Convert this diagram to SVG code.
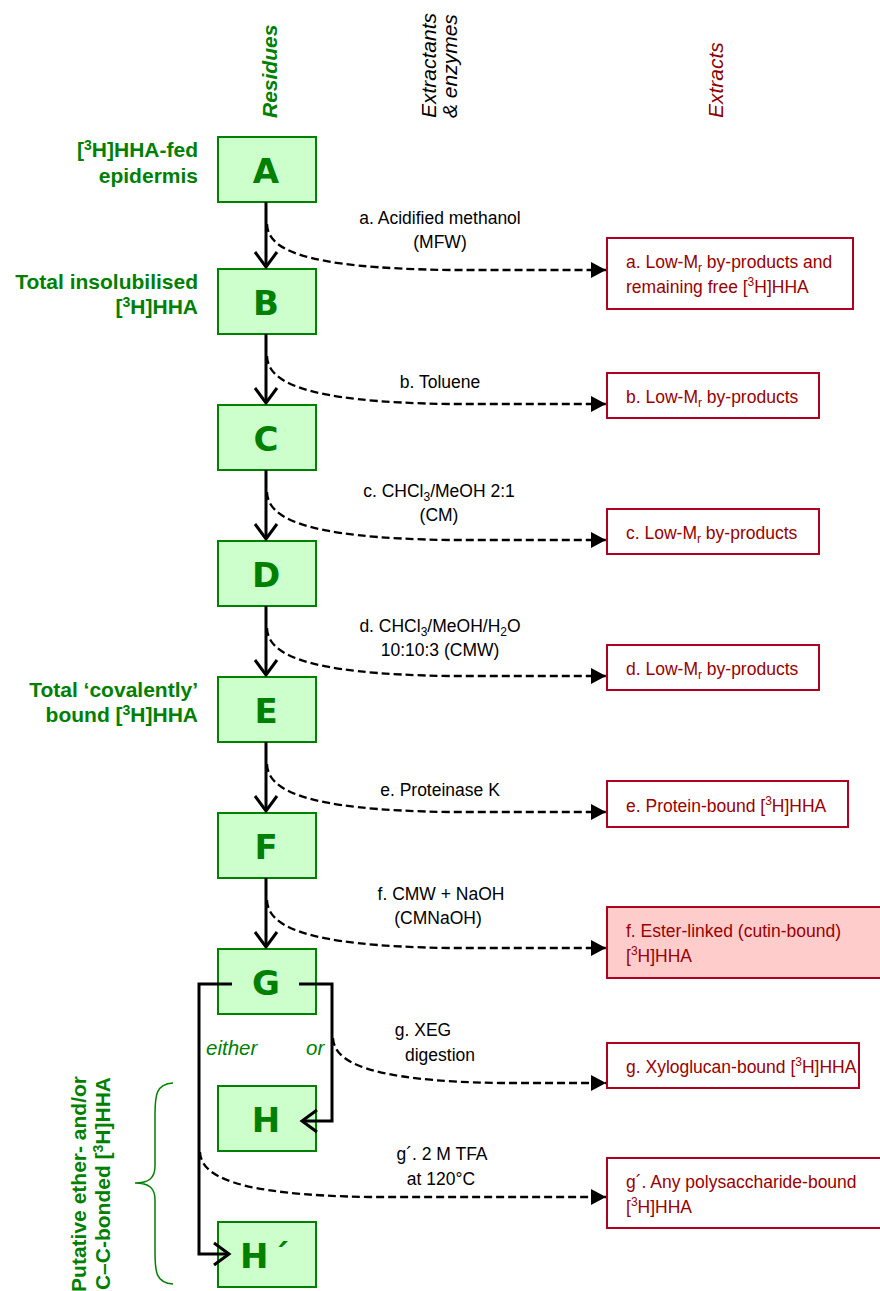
<svg xmlns="http://www.w3.org/2000/svg" width="880" height="1291" viewBox="0 0 880 1291">
<style>
.box{fill:#ccffcc;stroke:#008000;stroke-width:2}
.let{font-family:"DejaVu Sans",sans-serif;font-weight:bold;font-size:34px;fill:#008000}
.gl{font-family:"Liberation Sans",Arial,sans-serif;font-weight:bold;font-size:21px;fill:#008000;text-anchor:end}
.hd{font-family:"Liberation Sans",Arial,sans-serif;font-style:italic;font-size:21px}
.lb{font-family:"Liberation Sans",Arial,sans-serif;font-size:17.5px;fill:#000;text-anchor:middle}
.ex{fill:#fff;stroke:#b00020;stroke-width:2}
.et{font-family:"Liberation Sans",Arial,sans-serif;font-size:17.5px;fill:#990000}
.sol{fill:none;stroke:#000;stroke-width:3}
.dash{fill:none;stroke:#000;stroke-width:2.3;stroke-dasharray:8,4}
.it{font-family:"Liberation Sans",Arial,sans-serif;font-style:italic;font-size:20.5px;fill:#008000}
</style>
<defs>
<marker id="open" markerUnits="userSpaceOnUse" orient="auto" refX="0" refY="0" markerWidth="30" markerHeight="30" overflow="visible">
<path d="M-15,-11 L0,0 L-15,11" fill="none" stroke="#000" stroke-width="3"/>
</marker>
<marker id="tri" markerUnits="userSpaceOnUse" orient="auto" refX="0" refY="0" markerWidth="20" markerHeight="20" overflow="visible">
<path d="M-15,-8 L0,0 L-15,8 Z" fill="#000"/>
</marker>
</defs>

<g id="headers">
<text class="hd" transform="translate(277,118) rotate(-90)" fill="#008000" font-weight="bold">Residues</text>
<text class="hd" transform="translate(436,118) rotate(-90)" fill="#000">Extractants</text>
<text class="hd" transform="translate(457,118) rotate(-90)" fill="#000">&amp; enzymes</text>
<text class="hd" transform="translate(723,118) rotate(-90)" fill="#8b0000">Extracts</text>
</g>

<g id="labels">
<text class="lb" x="440" y="224">a. Acidified methanol</text>
<text class="lb" x="440" y="248">(MFW)</text>
<text class="lb" x="440" y="388">b. Toluene</text>
<text class="lb" x="439" y="497">c. CHCl<tspan font-size="12" dy="4">3</tspan><tspan dy="-4">/MeOH 2:1</tspan></text>
<text class="lb" x="439" y="521">(CM)</text>
<text class="lb" x="440" y="632">d. CHCl<tspan font-size="12" dy="4">3</tspan><tspan dy="-4">/MeOH/H</tspan><tspan font-size="12" dy="4">2</tspan><tspan dy="-4">O</tspan></text>
<text class="lb" x="440" y="656">10:10:3 (CMW)</text>
<text class="lb" x="440" y="796">e. Proteinase K</text>
<text class="lb" x="441" y="900">f. CMW + NaOH</text>
<text class="lb" x="438" y="924">(CMNaOH)</text>
<text class="lb" x="423" y="1036">g. XEG</text>
<text class="lb" x="440" y="1061">digestion</text>
<text class="lb" x="442" y="1160">g´. 2 M TFA</text>
<text class="lb" x="441" y="1185">at 120°C</text>
<text class="it" x="206" y="1055">either</text>
<text class="it" x="306" y="1055">or</text>
</g>

<g id="left-labels">
<text class="gl" x="198" y="157">[<tspan font-size="14" dy="-7">3</tspan><tspan dy="7">H]HHA-fed</tspan></text>
<text class="gl" x="198" y="183">epidermis</text>
<text class="gl" x="198" y="289">Total insolubilised</text>
<text class="gl" x="198" y="314">[<tspan font-size="14" dy="-7">3</tspan><tspan dy="7">H]HHA</tspan></text>
<text class="gl" x="198" y="697">Total ‘covalently’</text>
<text class="gl" x="198" y="722">bound [<tspan font-size="14" dy="-7">3</tspan><tspan dy="7">H]HHA</tspan></text>
<text class="gl" transform="translate(86,1076) rotate(-90)">Putative ether- and/or</text>
<text class="gl" transform="translate(110,1077) rotate(-90)">C–C-bonded [<tspan font-size="14" dy="-7">3</tspan><tspan dy="7">H]HHA</tspan></text>
<path d="M173,1083 C156,1084 155,1095 155,1115 L155,1166 C155,1178 149,1183 135,1183 C149,1183 155,1188 155,1200 L155,1252 C155,1272 156,1283 173,1284" fill="none" stroke="#008000" stroke-width="1.5"/>
</g>

<g id="node-A"><rect class="box" x="218" y="137" width="98" height="65"/><text class="let" x="266" y="183" text-anchor="middle">A</text></g>
<g id="node-B"><rect class="box" x="218" y="269" width="98" height="65"/><text class="let" x="266" y="315" text-anchor="middle">B</text></g>
<g id="node-C"><rect class="box" x="218" y="405" width="98" height="65"/><text class="let" x="266" y="451" text-anchor="middle">C</text></g>
<g id="node-D"><rect class="box" x="218" y="541" width="98" height="65"/><text class="let" x="266" y="587" text-anchor="middle">D</text></g>
<g id="node-E"><rect class="box" x="218" y="677" width="98" height="65"/><text class="let" x="266" y="723" text-anchor="middle">E</text></g>
<g id="node-F"><rect class="box" x="218" y="813" width="98" height="65"/><text class="let" x="266" y="859" text-anchor="middle">F</text></g>
<g id="node-G"><rect class="box" x="218" y="949" width="98" height="65"/><text class="let" x="266" y="995" text-anchor="middle">G</text></g>
<g id="node-H"><rect class="box" x="218" y="1086" width="98" height="65"/><text class="let" x="266" y="1132" text-anchor="middle">H</text></g>
<g id="node-H2"><rect class="box" x="218" y="1222" width="98" height="65"/><text class="let" x="240" y="1268" text-anchor="start">H<tspan dx="4">´</tspan></text></g>

<g id="extract-a"><rect class="ex" x="607" y="238" width="246" height="71"/><text class="et" x="626" y="268">a. Low-M<tspan font-size="12" dy="4">r</tspan><tspan dy="-4"> by-products and</tspan></text><text class="et" x="626" y="293">remaining free [<tspan font-size="12" dy="-7">3</tspan><tspan dy="7">H]HHA</tspan></text></g>
<g id="extract-b"><rect class="ex" x="607" y="373" width="212" height="45"/><text class="et" x="626" y="403">b. Low-M<tspan font-size="12" dy="4">r</tspan><tspan dy="-4"> by-products</tspan></text></g>
<g id="extract-c"><rect class="ex" x="607" y="509" width="212" height="45"/><text class="et" x="626" y="539">c. Low-M<tspan font-size="12" dy="4">r</tspan><tspan dy="-4"> by-products</tspan></text></g>
<g id="extract-d"><rect class="ex" x="607" y="645" width="212" height="45"/><text class="et" x="626" y="675">d. Low-M<tspan font-size="12" dy="4">r</tspan><tspan dy="-4"> by-products</tspan></text></g>
<g id="extract-e"><rect class="ex" x="607" y="781" width="241" height="46"/><text class="et" x="626" y="812">e. Protein-bound [<tspan font-size="12" dy="-7">3</tspan><tspan dy="7">H]HHA</tspan></text></g>
<g id="extract-f"><rect class="ex" x="607" y="907" width="290" height="71" style="fill:#ffcccc"/><text class="et" x="626" y="937">f. Ester-linked (cutin-bound)</text><text class="et" x="626" y="962">[<tspan font-size="12" dy="-7">3</tspan><tspan dy="7">H]HHA</tspan></text></g>
<g id="extract-g"><rect class="ex" x="607" y="1043" width="252" height="45"/><text class="et" x="626" y="1073" font-size="17">g. Xyloglucan-bound [<tspan font-size="12" dy="-7">3</tspan><tspan dy="7">H]HHA</tspan></text></g>
<g id="extract-g2"><rect class="ex" x="607" y="1158" width="290" height="70"/><text class="et" x="626" y="1188">g´. Any polysaccharide-bound</text><text class="et" x="626" y="1213">[<tspan font-size="12" dy="-7">3</tspan><tspan dy="7">H]HHA</tspan></text></g>

<g id="connectors">
<path class="sol" d="M266,202 V267" marker-end="url(#open)"/>
<path class="sol" d="M266,334 V403" marker-end="url(#open)"/>
<path class="sol" d="M266,470 V539" marker-end="url(#open)"/>
<path class="sol" d="M266,606 V675" marker-end="url(#open)"/>
<path class="sol" d="M266,742 V811" marker-end="url(#open)"/>
<path class="sol" d="M266,878 V947" marker-end="url(#open)"/>
<path class="sol" d="M232,984 H199 V1254 H229" marker-end="url(#open)"/>
<path class="sol" d="M299,984 H332 V1121 H302" marker-end="url(#open)"/>

<path class="dash" d="M267,224 C268,249 300,268 450,270 L606,270" marker-end="url(#tri)"/>
<path class="dash" d="M267,356 C268,381 300,402 450,404 L606,404" marker-end="url(#tri)"/>
<path class="dash" d="M267,492 C268,517 300,538 450,540 L606,540" marker-end="url(#tri)"/>
<path class="dash" d="M267,628 C268,653 300,674 450,676 L606,676" marker-end="url(#tri)"/>
<path class="dash" d="M267,764 C268,789 300,810 450,812 L606,812" marker-end="url(#tri)"/>
<path class="dash" d="M267,900 C268,925 300,946 450,948 L606,948" marker-end="url(#tri)"/>
<path class="dash" d="M333,1038 C334,1061 365,1081 500,1083 L606,1083" marker-end="url(#tri)"/>
<path class="dash" d="M200,1152 C201,1175 232,1195 370,1197 L606,1197" marker-end="url(#tri)"/>
</g>
</svg>
